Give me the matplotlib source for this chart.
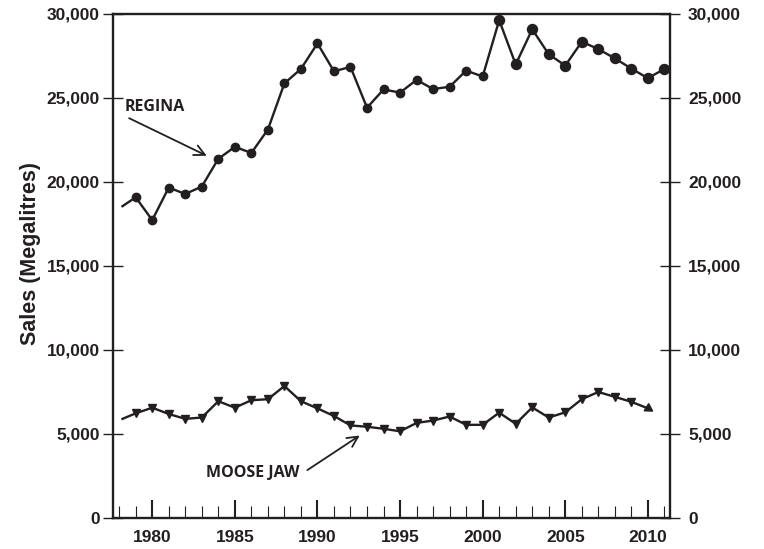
import matplotlib.pyplot as plt
from matplotlib.ticker import FuncFormatter, MultipleLocator

# annual sales, megalitres
years = list(range(1979, 2012))
regina = [19090, 17730, 19670, 19285, 19730, 21380, 22090, 21730, 23120, 25870,
          26730, 28250, 26590, 26850, 24420, 25510, 25320, 26080, 25530, 25670,
          26630, 26280, 29630, 27000, 29090, 27600, 26930, 28350, 27910, 27360,
          26750, 26180, 26730]

moose_years = list(range(1979, 2011))
moose_jaw = [6230, 6565, 6190, 5900, 5980, 6950, 6565, 7010, 7070, 7855,
             6950, 6525, 6070, 5510, 5430, 5310, 5160, 5660, 5800, 6040,
             5545, 5545, 6270, 5605, 6580, 5980, 6290, 7070, 7500, 7210,
             6915, 6525]

# the drawn curves begin a little before the first marked year
curve_start_year = 1978.2
regina_start = 18560
moose_start = 5900

ink = '#231f20'
plt.rcParams['font.family'] = ['Liberation Sans', 'DejaVu Sans']

fig = plt.figure(figsize=(7.64, 5.49), dpi=100)
ax = fig.add_axes([0.148, 0.0565, 0.729, 0.918])

# Regina
ax.plot([curve_start_year] + years, [regina_start] + regina, color=ink, lw=1.7, zorder=3)
ax.plot(years[:22], regina[:22], 'o', color=ink, ms=6, zorder=4)
ax.plot(years[22:], regina[22:], 'o', color=ink, ms=7.2, zorder=4)

# Moose Jaw
ax.plot([curve_start_year] + moose_years, [moose_start] + moose_jaw, color=ink, lw=1.7, zorder=3)
ax.plot(moose_years[:-1], moose_jaw[:-1], 'v', color=ink, ms=5.5, zorder=4)
ax.plot(moose_years[-1:], moose_jaw[-1:], marker=(3, 0, -122), ls='none', color=ink, ms=7, zorder=4)

# labels with arrows
ann_font = dict(family=['Open Sans', 'DejaVu Sans'], fontweight='bold', fontsize=11.5, color=ink)
ax.text(1978.3, 24460, 'REGINA', ha='left', va='center', **ann_font)
ax.annotate('', xy=(1983.45, 21490), xytext=(1978.45, 23870),
            arrowprops=dict(arrowstyle='->', color=ink, lw=1.3, mutation_scale=19))
ax.text(1983.25, 2700, 'MOOSE JAW', ha='left', va='center', **ann_font)
ax.annotate('', xy=(1992.7, 5000), xytext=(1989.25, 2760),
            arrowprops=dict(arrowstyle='->', color=ink, lw=1.3, mutation_scale=19))

# axes
ax.set_xlim(1977.63, 2011.34)
ax.set_ylim(0, 30000)
for s in ax.spines.values():
    s.set_linewidth(1.7)
    s.set_color(ink)

ax.xaxis.set_major_locator(MultipleLocator(5))
ax.xaxis.set_minor_locator(MultipleLocator(1))
ax.tick_params(axis='x', which='major', direction='in', length=13, width=1.5,
               color=ink, pad=9, labelsize=12.5, labelcolor=ink)
ax.tick_params(axis='x', which='minor', direction='in', length=9, width=0.8, color=ink)

fmt = FuncFormatter(lambda v, p: f'{int(v):,}')
ax.yaxis.set_major_locator(MultipleLocator(5000))
ax.yaxis.set_major_formatter(fmt)
ax.tick_params(axis='y', direction='inout', length=14, width=1.0, color=ink,
               pad=2.5, labelsize=12.5, labelcolor=ink)

ax2 = ax.twinx()
ax2.set_ylim(ax.get_ylim())
ax2.yaxis.set_major_locator(MultipleLocator(5000))
ax2.yaxis.set_major_formatter(fmt)
ax2.tick_params(axis='y', direction='inout', length=14, width=1.0, color=ink,
                pad=6, labelsize=12.5, labelcolor=ink)
for s in ax2.spines.values():
    s.set_visible(False)

for lab in ax.get_xticklabels() + ax.get_yticklabels() + ax2.get_yticklabels():
    lab.set_fontweight('bold')

ax.set_ylabel('Sales (Megalitres)', fontsize=15.5, fontweight='bold', color=ink)
ax.yaxis.set_label_coords(-0.13, 0.524)

plt.savefig('out.png', dpi=100)
